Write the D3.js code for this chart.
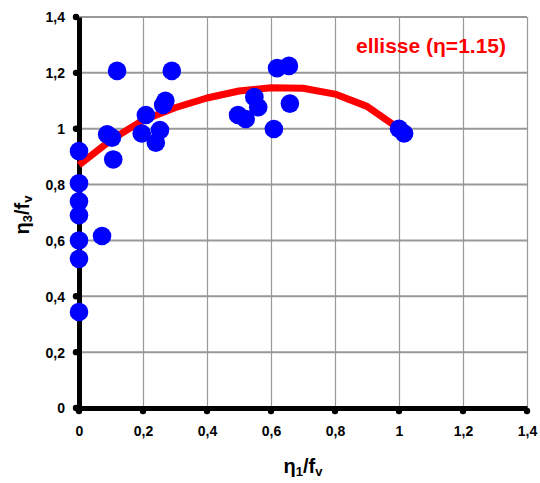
<!DOCTYPE html>
<html><head><meta charset="utf-8">
<script src="https://cdn.jsdelivr.net/npm/d3@7"></script>
<style>body{margin:0;background:#fff}svg{display:block;font-family:"Liberation Sans",Arial,sans-serif}</style>
</head><body><svg id="c" width="540" height="483"></svg>
<script>
const pointsX = [0,0,0,0,0,0,0,0.072,0.088,0.103,0.107,0.119,0.29,0.209,0.196,0.253,0.24,0.27,0.263,0.619,0.656,0.548,0.56,0.497,0.521,0.659,0.609,1.0,1.016];
const pointsY = [0.344,0.534,0.60,0.69,0.74,0.805,0.92,0.616,0.98,0.968,0.89,1.207,1.207,1.049,0.983,0.995,0.95,1.10,1.085,1.217,1.225,1.113,1.077,1.049,1.035,1.09,0.999,1.0,0.983];
const curveX = [0,0.1,0.2,0.3,0.4,0.5,0.6,0.7,0.8,0.9,1.0];
const curveY = [0.87,0.96,1.03,1.075,1.11,1.135,1.147,1.145,1.124,1.08,1.0];
const xTicks = [0,0.2,0.4,0.6,0.8,1,1.2,1.4];
const yTicks = [0,0.2,0.4,0.6,0.8,1,1.2,1.4];
const legendLabel = "ellisse (η=1.15)";

const svg = d3.select("#c");
const x = d3.scaleLinear().domain([0,1.4]).range([79,527]);
const y = d3.scaleLinear().domain([0,1.4]).range([408,17]);
const fmt = v => String(v).replace(".", ",");

// gridlines
svg.append("g").selectAll("line").data(yTicks.filter(d=>d>0)).join("line")
  .attr("x1",x(0)).attr("x2",x(1.4)).attr("y1",d=>y(d)).attr("y2",d=>y(d))
  .attr("stroke","#999").attr("stroke-width",2);
svg.append("g").selectAll("line").data(xTicks.filter(d=>d>0)).join("line")
  .attr("x1",d=>Math.round(x(d))+0.5).attr("x2",d=>Math.round(x(d))+0.5).attr("y1",y(0)).attr("y2",y(1.4))
  .attr("stroke","#999").attr("stroke-width",1.2);

// axes
const gx = svg.append("g").attr("transform",`translate(0,${y(0)})`)
  .call(d3.axisBottom(x).tickValues(xTicks).tickFormat(fmt).tickSize(0).tickPadding(18));
const gy = svg.append("g").attr("transform",`translate(${x(0)},0)`)
  .call(d3.axisLeft(y).tickValues(yTicks).tickFormat(fmt).tickSize(0).tickPadding(14));
[gx,gy].forEach(g=>{
  g.select(".domain").attr("stroke","#000").attr("stroke-width",5);
  g.selectAll("text").attr("font-size",14).attr("font-weight","bold").attr("fill","#000")
   .attr("font-family","Liberation Sans, Arial, sans-serif");
});
gy.selectAll("text").attr("dy","0.35em");
// tick dots
svg.append("g").selectAll("circle").data(xTicks).join("circle")
  .attr("cx",d=>x(d)).attr("cy",y(0)+3).attr("r",3.2).attr("fill","#000");
svg.append("g").selectAll("circle").data(yTicks).join("circle")
  .attr("cx",x(0)-3).attr("cy",d=>y(d)).attr("r",3.2).attr("fill","#000");

// curve
const line = d3.line().x((d,i)=>x(curveX[i])).y(d=>y(d));
svg.append("path").datum(curveY).attr("d",line).attr("fill","none")
  .attr("stroke","#ff0000").attr("stroke-width",7).attr("stroke-linejoin","round");

// points
svg.append("g").selectAll("circle").data(pointsX).join("circle")
  .attr("cx",d=>x(d)).attr("cy",(d,i)=>y(pointsY[i])).attr("r",9.3).attr("fill","#0000ff");

// legend
svg.append("text").attr("x",356).attr("y",53).attr("fill","#ff0000")
  .attr("font-size",21).attr("font-weight","bold").attr("textLength",150).text(legendLabel);

// axis titles
const xt = svg.append("text").attr("x",303).attr("y",473).attr("text-anchor","middle")
  .attr("font-size",20).attr("font-weight","bold");
xt.append("tspan").text("η");
xt.append("tspan").attr("font-size",13).attr("dy",3).text("1");
xt.append("tspan").attr("dy",-3).text("/f");
xt.append("tspan").attr("font-size",13).attr("dy",3).text("v");

const yt = svg.append("text").attr("transform","translate(29,215) rotate(-90)").attr("text-anchor","middle")
  .attr("font-size",20).attr("font-weight","bold");
yt.append("tspan").text("η");
yt.append("tspan").attr("font-size",13).attr("dy",3).text("3");
yt.append("tspan").attr("dy",-3).text("/f");
yt.append("tspan").attr("font-size",13).attr("dy",3).text("v");
</script></body></html>
